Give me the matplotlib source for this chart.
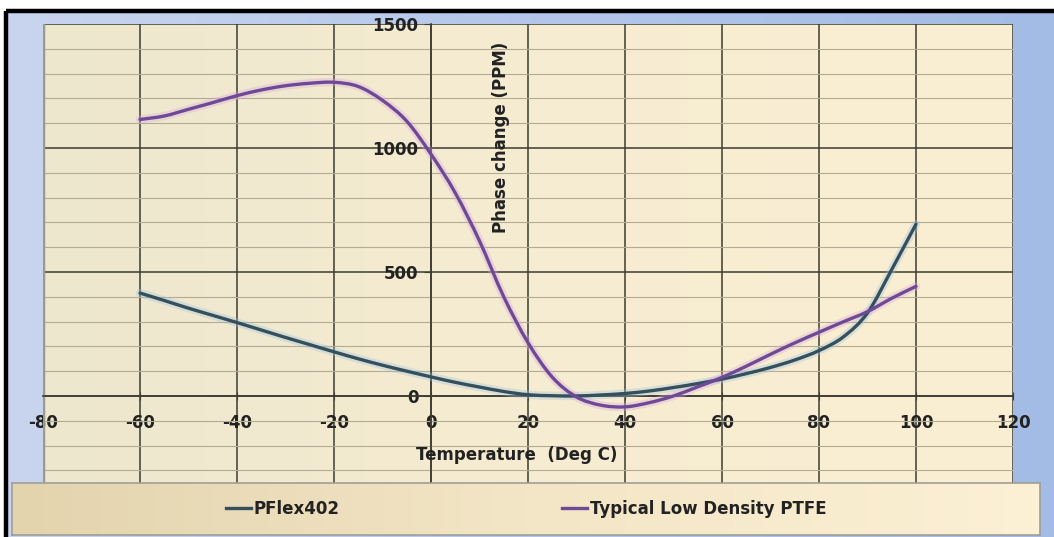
import matplotlib
matplotlib.use('Agg')
import matplotlib.pyplot as plt
import numpy as np
from matplotlib.colors import LinearSegmentedColormap
from matplotlib.path import Path
from matplotlib.patches import PathPatch
from matplotlib.lines import Line2D

# Данные
temp = [-60, -55, -50, -45, -40, -35, -30, -25, -20, -15, -10, -5, 0,
        5, 10, 15, 20, 25, 30, 35, 40, 45, 50, 55, 60, 65, 70, 75, 80,
        85, 90, 95, 100]  # Deg C

pflex = [415, 385, 354, 325, 296, 266, 236, 207, 178, 150, 124, 100, 77,
         55, 36, 18, 5, 1, 0, 4, 10, 20, 34, 50, 68, 90, 115, 145, 183,
         238, 335, 510, 693]  # PPM

ptfe = [1115, 1129, 1156, 1183, 1211, 1234, 1251, 1261, 1265, 1248, 1192,
        1108, 975, 819, 625, 400, 215, 76, -4, -37, -44, -27, 0, 37, 75,
        120, 168, 214, 257, 299, 340, 394, 442]  # PPM

series_names = ['PFlex402', 'Typical Low Density PTFE']
series_colors = ['#34505F', '#6E4A96']
glow_colors = ['#9FC3DA', '#D9A9E0']

x_ticks = np.arange(-80, 121, 20)
y_ticks = np.arange(0, 1501, 500)

plt.rcParams['font.family'] = ['DejaVu Sans']
plt.rcParams['font.weight'] = 'bold'
plt.rcParams['axes.unicode_minus'] = False
TXT = '#222222'
FS = 12


def smooth_path(x, y):
    """Сглаженная линия как в Excel (Catmull-Rom -> кубические Безье)"""
    p = np.column_stack([x, y]).astype(float)
    p_ext = np.vstack([p[0], p, p[-1]])
    verts = [p[0]]
    codes = [Path.MOVETO]
    for i in range(1, len(p_ext) - 2):
        p0, p1, p2, p3 = p_ext[i - 1], p_ext[i], p_ext[i + 1], p_ext[i + 2]
        verts += [p1 + (p2 - p0) / 6, p2 - (p3 - p1) / 6, p2]
        codes += [Path.CURVE4] * 3
    return Path(verts, codes)


W, H = 1054, 537
fig = plt.figure(figsize=(W / 100, H / 100), dpi=100)
fig.patch.set_facecolor('white')

# Фон области диаграммы (голубой градиент) и чёрная рамка
bg = fig.add_axes([0, 0, 1, 1])
bg.set_axis_off()
bg.set_xlim(0, W)
bg.set_ylim(H, 0)
blue = LinearSegmentedColormap.from_list('blue', ['#C9D5EF', '#B4C7EA', '#A2BCE5'])
bg.imshow(np.linspace(0, 1, 256)[None, :], cmap=blue, aspect='auto',
          extent=(8, W, H, 13), zorder=0)
bg.plot([6, W], [11, 11], color='black', lw=3.2, solid_capstyle='butt', zorder=2)
bg.plot([6, 6], [11, H], color='black', lw=3.2, solid_capstyle='butt', zorder=2)

# Область построения
ax = fig.add_axes([43 / W, 1 - 484 / H, 970 / W, 460 / H])
beige = LinearSegmentedColormap.from_list('beige', ['#EDE7CE', '#F6ECD1', '#FBEFD3'])
ax.imshow(np.linspace(0, 1, 256)[None, :], cmap=beige, aspect='auto',
          extent=(-80, 120, -355, 1500), zorder=0)
ax.plot([0, 0], [0, 1], transform=ax.transAxes, color='#9C9A90', lw=2.5, zorder=1)

handles = []
for vals, c, g, name in zip([pflex, ptfe], series_colors, glow_colors, series_names):
    path = smooth_path(temp, vals)
    ax.add_patch(PathPatch(path, facecolor='none', edgecolor=g, lw=6,
                           alpha=0.35, capstyle='round', zorder=3))
    ax.add_patch(PathPatch(path, facecolor='none', edgecolor=c, lw=2.4,
                           capstyle='round', joinstyle='round', zorder=4))
    handles.append(Line2D([], [], color=c, lw=2.4, label=name))

ax.set_xlim(-80, 120)
ax.set_ylim(-355, 1500)
ax.set_xticks(x_ticks)
ax.set_yticks(y_ticks)
ax.set_yticks(np.arange(-300, 1501, 100), minor=True)
ax.set_axisbelow(True)
ax.grid(which='major', color='#3C3C32', lw=1.1)
ax.grid(which='minor', axis='y', color='#B3AB93', lw=0.8)

for s in ['top', 'right']:
    ax.spines[s].set_visible(False)
ax.spines['left'].set_position(('data', 0))
ax.spines['bottom'].set_position(('data', 0))
for s in ['left', 'bottom']:
    ax.spines[s].set_color('#3C3C32')
    ax.spines[s].set_linewidth(1.2)

ax.tick_params(axis='x', which='major', direction='inout', length=6, pad=10,
               labelsize=FS, labelcolor=TXT, color='#3C3C32')
ax.tick_params(axis='y', which='major', direction='out', length=5, pad=4,
               labelsize=FS, labelcolor=TXT, color='#3C3C32')
ax.tick_params(which='minor', length=0)

ax.text(0.4887, 0.063, 'Temperature  (Deg C)', transform=ax.transAxes,
        ha='center', va='center', fontsize=FS, color=TXT)
ax.text(0.472, 0.754, 'Phase change (PPM)', transform=ax.transAxes,
        ha='center', va='center', rotation=90, fontsize=FS, color=TXT)

# Легенда внизу
lg = fig.add_axes([12 / W, 1 - 535 / H, 1028 / W, 52 / H])
tan = LinearSegmentedColormap.from_list('tan', ['#E3D4AE', '#F3E6C6', '#FCF0D5'])
lg.imshow(np.linspace(0, 1, 256)[None, :], cmap=tan, aspect='auto',
          extent=(0, 1, 0, 1))
lg.set_xlim(0, 1)
lg.set_ylim(0, 1)
lg.set_xticks([])
lg.set_yticks([])
for s in lg.spines.values():
    s.set_color('#A09E96')
    s.set_linewidth(1.2)
lg.legend(handles, series_names, ncol=2, loc='center', frameon=False,
          columnspacing=13.4, handlelength=1.5, handletextpad=0.15,
          prop={'size': FS, 'weight': 'bold'}, labelcolor=TXT)

fig.savefig('out.png', dpi=100)
